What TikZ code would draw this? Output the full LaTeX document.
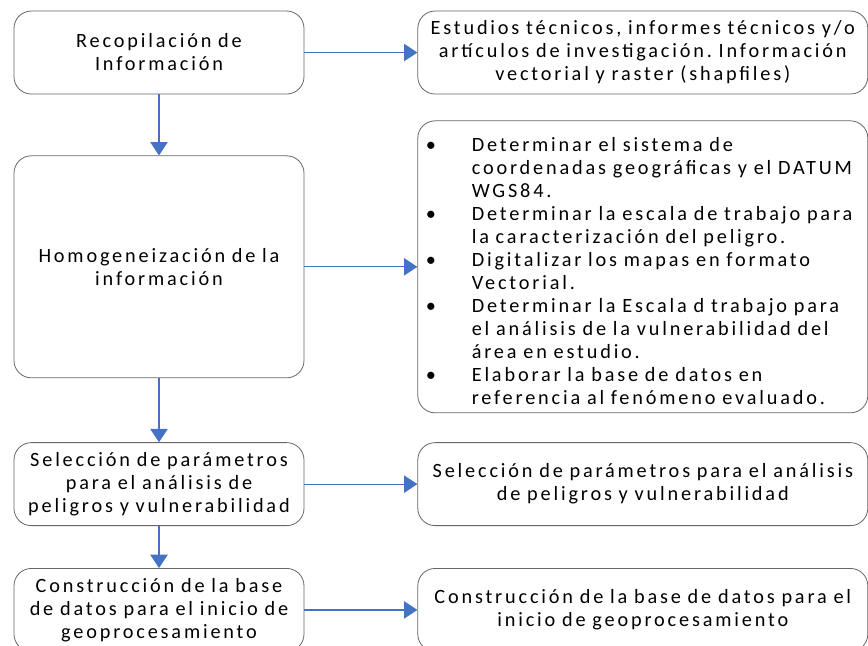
\documentclass[tikz,border=0pt]{standalone}
\usepackage{fontspec}
\setmainfont{Carlito}[LetterSpace=14]
\frenchspacing
\usetikzlibrary{positioning,arrows.meta}
\definecolor{flecha}{HTML}{4472C4}
\tikzset{main/.style={draw=black!60, line width=0.6pt, rounded corners=13pt, align=center, text width=213.5pt, inner xsep=2pt, minimum height=62.25pt, font=\fontsize{15.2}{17.25}\selectfont},
  side/.style={main, text width=333.5pt},
  flow/.style={draw=flecha, line width=0.9pt, -{Triangle[length=10pt,width=13pt]}}}
\newcommand{\punto}{\par\noindent\hangindent=38.5pt\hangafter=1\makebox[38.5pt][l]{\hspace{4pt}\textbullet}}

\begin{document}
\begin{tikzpicture}
		\useasboundingbox (0,0) rectangle (651pt,-484.5pt);
		\node[main] (rec) at (119.25pt,-39.4pt) {Recopilación de\\ Información};
		\node[main, minimum height=166.5pt] (hom) [below=45.75pt of rec] {Homogeneización de la\\ información};
		\node[main] (sel) [below=48pt of hom] {Selección de parámetros\\ para el análisis de\\ peligros y vulnerabilidad};
		\node[main] (con) [below=31.5pt of sel] {Construcción de la base\\ de datos para el inicio de\\ geoprocesamiento};
		
		\node[side] (est) [right=84.75pt of rec] {Estudios técnicos, informes técnicos y/o\\ artículos de investigación. Información\\ vectorial y raster (shapfiles)};
		\node[side, align=left, minimum height=219pt] (det) [right=84.75pt of hom] {%
			\punto Determinar el sistema de\newline coordenadas geográficas y el DATUM\newline WGS84.
			\punto Determinar la escala de trabajo para\newline la caracterización del peligro.
			\punto Digitalizar los mapas en formato\newline Vectorial.
			\punto Determinar la Escala d trabajo para\newline el análisis de la vulnerabilidad del\newline área en estudio.
			\punto Elaborar la base de datos en\newline referencia al fenómeno evaluado.\par};
		\node[side] (par) [right=84.75pt of sel] {Selección de parámetros para el análisis\\ de peligros y vulnerabilidad};
		\node[side] (bas) [right=84.75pt of con] {Construcción de la base de datos para el\\ inicio de geoprocesamiento};
		
		\draw[flow] (rec) -- (hom);
		\draw[flow] (hom) -- (sel);
		\draw[flow] (sel) -- (con);
		\draw[flow] (rec) -- (est);
		\draw[flow] (hom) -- (det);
		\draw[flow] (sel) -- (par);
		\draw[flow] (con) -- (bas);
	\end{tikzpicture}
\end{document}
